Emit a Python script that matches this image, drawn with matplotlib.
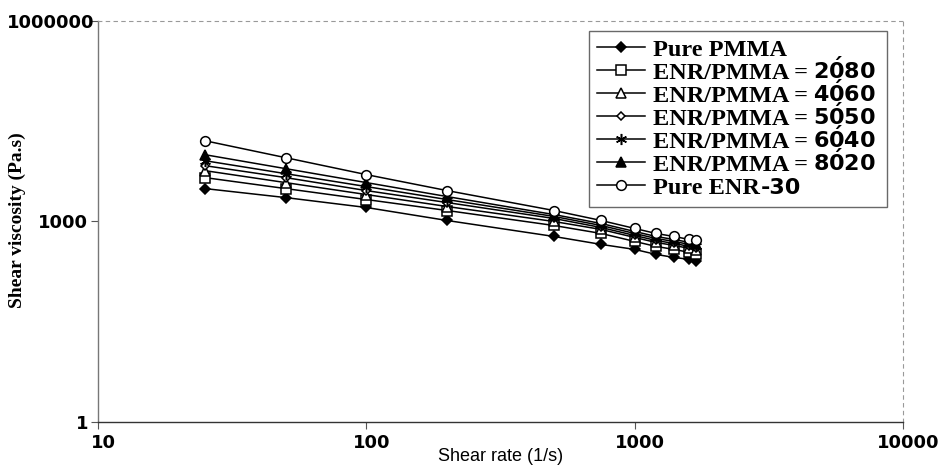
import matplotlib
matplotlib.use("Agg")
import matplotlib.pyplot as plt
from matplotlib.ticker import FixedLocator, FixedFormatter, NullLocator
from matplotlib.transforms import IdentityTransform, ScaledTranslation

# shear rate (1/s)
shear_rate = [25, 50, 100, 200, 500, 750, 1000, 1200, 1400, 1600, 1700]

# shear viscosity (Pa.s)
pure_pmma = [3110, 2280, 1620, 1035, 597, 454, 382, 322, 290, 271, 253]
enr_2080 = [4540, 3110, 2130, 1460, 871, 662, 503, 424, 382, 345, 322]
enr_4060 = [5770, 3820, 2530, 1675, 1000, 760, 577, 486, 439, 395, 369]
enr_5050 = [6850, 4540, 2900, 1920, 1110, 813, 618, 520, 470, 424, 395]
enr_6040 = [8130, 5200, 3330, 2130, 1190, 871, 662, 557, 503, 454, 424]
enr_8020 = [10000, 6180, 3820, 2360, 1270, 933, 709, 597, 538, 486, 454]
pure_enr = [16180, 9020, 5030, 2900, 1460, 1035, 787, 662, 597, 538, 520]

x_ticks = [10, 100, 1000, 10000]
x_ticklabels = ["10", "100", "1000", "10000"]
y_ticks = [1, 1000, 1000000]
y_ticklabels = ["1", "1000", "1000000"]

# legend text: serif part + sans bold suffix
label_heads = ["Pure PMMA", "ENR/PMMA =", "ENR/PMMA =", "ENR/PMMA =",
               "ENR/PMMA =", "ENR/PMMA =", "Pure ENR"]
label_tails = ["", r"$\mathbf{2\acute{0}80}$", r"$\mathbf{4\acute{0}60}$",
               r"$\mathbf{5\acute{0}50}$", r"$\mathbf{6\acute{0}40}$",
               r"$\mathbf{8\acute{0}20}$", "-30"]

plt.rcParams['mathtext.fontset'] = 'custom'
plt.rcParams['mathtext.bf'] = 'DejaVu Sans:bold'
plt.rcParams['mathtext.rm'] = 'DejaVu Sans:bold'

styles = [
    dict(marker='D', mfc='black', ms=5),
    dict(marker='s', mfc='white', ms=6.5),
    dict(marker='^', mfc='white', ms=7),
    dict(marker='D', mfc='white', ms=4.5),
    dict(marker=(6, 2, 0), mfc='black', ms=8),
    dict(marker='^', mfc='black', ms=7),
    dict(marker='o', mfc='white', ms=7),
]
data = [pure_pmma, enr_2080, enr_4060, enr_5050, enr_6040, enr_8020, pure_enr]

fig = plt.figure(figsize=(9.42, 4.72), dpi=100)
ax = fig.add_axes([0.104, 0.106, 0.8546, 0.8495])

for vals, name, style in zip(data, label_heads, styles):
    ax.plot(shear_rate, vals, color='black', lw=1.1, mec='black', mew=1.1,
            label=name, **style)

ax.set_xscale('log')
ax.set_yscale('log')
ax.set_xlim(10, 10000)
ax.set_ylim(1, 1000000)

ax.xaxis.set_major_locator(FixedLocator(x_ticks))
ax.xaxis.set_major_formatter(FixedFormatter(x_ticklabels))
ax.xaxis.set_minor_locator(NullLocator())
ax.yaxis.set_major_locator(FixedLocator(y_ticks))
ax.yaxis.set_major_formatter(FixedFormatter(y_ticklabels))
ax.yaxis.set_minor_locator(NullLocator())

ax.tick_params(direction='out', length=5, width=0.8, color='#555555')
ax.tick_params(axis='x', pad=4)
ax.tick_params(axis='y', pad=2)
for lab in ax.get_xticklabels() + ax.get_yticklabels():
    lab.set_fontfamily('DejaVu Sans')
    lab.set_fontweight('bold')
    lab.set_fontsize(13)
shift = ScaledTranslation(0.05, 0, fig.dpi_scale_trans)
for lab in ax.get_xticklabels():
    lab.set_transform(lab.get_transform() + shift)
# top y label sits right against the axis
top_lab = ax.get_yticklabels()[-1]
top_lab.set_transform(top_lab.get_transform() + ScaledTranslation(0.06, 0, fig.dpi_scale_trans))

ax.spines['left'].set_color('#777777')
ax.spines['left'].set_linewidth(1.0)
ax.spines['bottom'].set_color('#333333')
ax.spines['bottom'].set_linewidth(1.0)
for side in ('top', 'right'):
    ax.spines[side].set_color('#999999')
    ax.spines[side].set_linewidth(0.8)
    ax.spines[side].set_linestyle((0, (3, 4)))

ax.set_xlabel("Shear rate (1/s)", family='Liberation Sans', fontsize=13,
              labelpad=-3)
fig.text(0.018, 0.534, "Shear viscosity (Pa.s)", family='Liberation Serif',
         fontweight='bold', fontsize=14, rotation=90, ha='center', va='center')

leg = ax.legend(loc='upper left', bbox_to_anchor=(0.61, 0.549, 0.37, 0.426),
                mode='expand', borderaxespad=0, frameon=True, fancybox=False,
                handlelength=1.98, handletextpad=0.33, labelspacing=0.04,
                borderpad=0.32,
                prop={'family': 'Liberation Serif', 'weight': 'bold', 'size': 17.5})
leg.get_frame().set_edgecolor('#444444')
leg.get_frame().set_linewidth(1.0)

# sans bold ratio numbers set right after the serif part of each label
fig.canvas.draw()
renderer = fig.canvas.get_renderer()
for txt, tail in zip(leg.get_texts(), label_tails):
    if not tail:
        continue
    bb = txt.get_window_extent(renderer)
    base_y = txt.get_transform().transform(txt.get_unitless_position())[1]
    gap = 1 if tail == "-30" else 5
    fig.text(bb.x1 + gap, base_y, tail, transform=IdentityTransform(),
             family='DejaVu Sans', fontweight='bold', fontsize=16,
             ha='left', va='baseline')

fig.savefig("out.png", dpi=100)
